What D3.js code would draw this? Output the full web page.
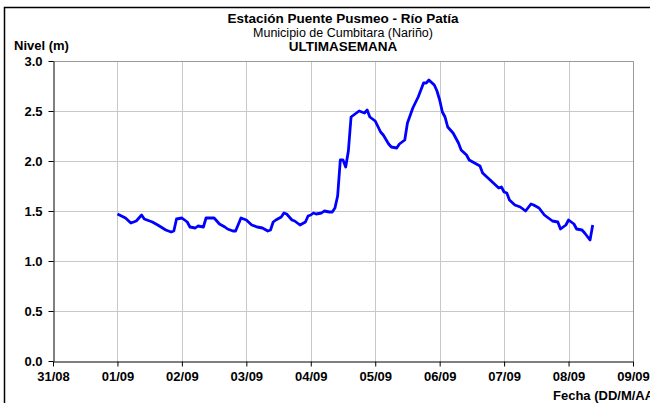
<!DOCTYPE html>
<html><head><meta charset="utf-8">
<script src="https://cdn.jsdelivr.net/npm/d3@7"></script>
<style>body{margin:0;background:#fff}svg{display:block;font-family:"Liberation Sans",Arial,sans-serif}</style>
</head><body><svg id="c" width="650" height="403"></svg>
<script>
const times = ["01/09 00:00","01/09 03:00","01/09 05:00","01/09 07:00","01/09 09:00","01/09 10:00","01/09 13:00","01/09 15:00","01/09 18:00","01/09 20:00","01/09 21:00","01/09 22:00",
"02/09 00:00","02/09 02:00","02/09 03:00","02/09 05:00","02/09 06:00","02/09 08:00","02/09 09:00","02/09 12:00","02/09 14:00","02/09 16:00","02/09 17:00","02/09 19:00","02/09 20:00","02/09 22:00",
"03/09 00:00","03/09 02:00","03/09 04:00","03/09 06:00","03/09 08:00","03/09 09:00","03/09 10:00","03/09 11:00","03/09 13:00","03/09 14:00","03/09 15:00","03/09 17:00","03/09 18:00","03/09 20:00","03/09 22:00","03/09 23:00",
"04/09 00:00","04/09 01:00","04/09 02:00","04/09 04:00","04/09 05:00","04/09 07:00","04/09 08:00","04/09 09:00","04/09 10:00","04/09 11:00","04/09 12:00","04/09 13:00","04/09 14:00","04/09 15:00","04/09 17:00","04/09 18:00","04/09 20:00","04/09 21:00","04/09 22:00",
"05/09 00:00","05/09 02:00","05/09 03:00","05/09 05:00","05/09 06:00","05/09 08:00","05/09 09:00","05/09 11:00","05/09 12:00","05/09 14:00","05/09 16:00","05/09 18:00","05/09 19:00","05/09 20:00","05/09 22:00","05/09 23:00",
"06/09 00:00","06/09 01:00","06/09 02:00","06/09 03:00","06/09 05:00","06/09 07:00","06/09 08:00","06/09 10:00","06/09 11:00","06/09 13:00","06/09 15:00","06/09 16:00","06/09 18:00","06/09 20:00","06/09 22:00","06/09 23:00",
"07/09 00:00","07/09 01:00","07/09 02:00","07/09 04:00","07/09 06:00","07/09 08:00","07/09 10:00","07/09 11:00","07/09 13:00","07/09 15:00","07/09 18:00","07/09 20:00","07/09 21:00","07/09 23:00",
"08/09 00:00","08/09 02:00","08/09 03:00","08/09 05:00","08/09 06:00","08/09 08:00","08/09 09:00"];
const levels = [1.47,1.43,1.38,1.40,1.46,1.42,1.39,1.36,1.31,1.29,1.30,1.42,
1.43,1.39,1.34,1.33,1.35,1.34,1.43,1.43,1.37,1.34,1.32,1.30,1.30,1.43,
1.41,1.36,1.34,1.33,1.30,1.31,1.39,1.41,1.44,1.48,1.47,1.41,1.40,1.36,1.39,1.45,
1.46,1.48,1.47,1.48,1.50,1.49,1.49,1.53,1.65,2.01,2.01,1.94,2.10,2.44,2.48,2.50,2.48,2.51,2.44,
2.40,2.29,2.26,2.17,2.14,2.13,2.17,2.21,2.38,2.53,2.64,2.78,2.78,2.81,2.76,2.70,
2.61,2.49,2.44,2.34,2.28,2.18,2.11,2.06,2.01,1.98,1.95,1.88,1.83,1.78,1.73,1.74,
1.69,1.68,1.61,1.56,1.54,1.50,1.57,1.56,1.53,1.46,1.40,1.39,1.32,1.36,
1.41,1.37,1.32,1.31,1.28,1.21,1.36];
const xTickLabels = ["31/08","01/09","02/09","03/09","04/09","05/09","06/09","07/09","08/09","09/09"];
const yTicks = [0,0.5,1.0,1.5,2.0,2.5,3.0];
const titleLines = ["Estación Puente Pusmeo - Río Patía","Municipio de Cumbitara (Nariño)","ULTIMASEMANA"];

const parse = d3.timeParse("%d/%m %H:%M");
const data = times.map((t,i)=>({t:parse(t), v:levels[i]}));
const xDates = xTickLabels.map(s=>parse(s+" 00:00"));

const svg = d3.select("#c");
const L=53,R=633,T=61,B=361;
const x = d3.scaleTime().domain([xDates[0], xDates[xDates.length-1]]).range([L,R]);
const y = d3.scaleLinear().domain([0,3]).range([B,T]);

// outer frame
svg.append("rect").attr("x",4.5).attr("y",7.5).attr("width",700).attr("height",450)
  .attr("fill","none").attr("stroke","#000").attr("stroke-width",1.5);

// grid
svg.append("g").selectAll("line").data(yTicks.slice(1)).join("line")
  .attr("x1",L).attr("x2",R).attr("y1",d=>Math.round(y(d))+0.5).attr("y2",d=>Math.round(y(d))+0.5)
  .attr("stroke","#c8c8c8");
svg.append("g").selectAll("line").data(xDates.slice(1)).join("line")
  .attr("y1",T).attr("y2",B).attr("x1",d=>Math.round(x(d))+0.5).attr("x2",d=>Math.round(x(d))+0.5)
  .attr("stroke","#c8c8c8");
svg.append("path").attr("d",`M${L},${T+0.5}H${R+0.5}V${B}`).attr("fill","none").attr("stroke","#999");

// axes
const xAxis = svg.append("g").attr("transform",`translate(0,${B+0.5})`)
  .call(d3.axisBottom(x).tickValues(xDates).tickFormat((d,i)=>xTickLabels[i]).tickSize(5).tickPadding(5).tickSizeOuter(0));
const yAxis = svg.append("g").attr("transform",`translate(${L+0.5},0)`)
  .call(d3.axisLeft(y).tickValues(yTicks).tickFormat(d3.format(".1f")).tickSize(5).tickPadding(6).tickSizeOuter(0));
[xAxis,yAxis].forEach(a=>{
  a.selectAll("path,line").attr("stroke","#000");
  a.selectAll("text").attr("font-family","Liberation Sans, Arial, sans-serif").attr("font-size",13).attr("font-weight","bold").attr("fill","#000");
});

// line
svg.append("path").datum(data)
  .attr("d",d3.line().x(d=>x(d.t)).y(d=>y(d.v)))
  .attr("fill","none").attr("stroke","#0000ff").attr("stroke-width",2.8).attr("stroke-linejoin","round");

// titles
const cx=(L+R)/2;
svg.append("text").attr("x",cx).attr("y",23).attr("text-anchor","middle").attr("font-size",13.5).attr("font-weight","bold").text(titleLines[0]);
svg.append("text").attr("x",cx).attr("y",36.5).attr("text-anchor","middle").attr("font-size",12.5).text(titleLines[1]);
svg.append("text").attr("x",cx).attr("y",51).attr("text-anchor","middle").attr("font-size",13.5).attr("font-weight","bold").text(titleLines[2]);
svg.append("text").attr("x",14).attr("y",50).attr("font-size",13).attr("font-weight","bold").text("Nivel (m)");
svg.append("text").attr("x",553).attr("y",400).attr("font-size",13).attr("font-weight","bold").text("Fecha (DD/M/AA)");
</script></body></html>
